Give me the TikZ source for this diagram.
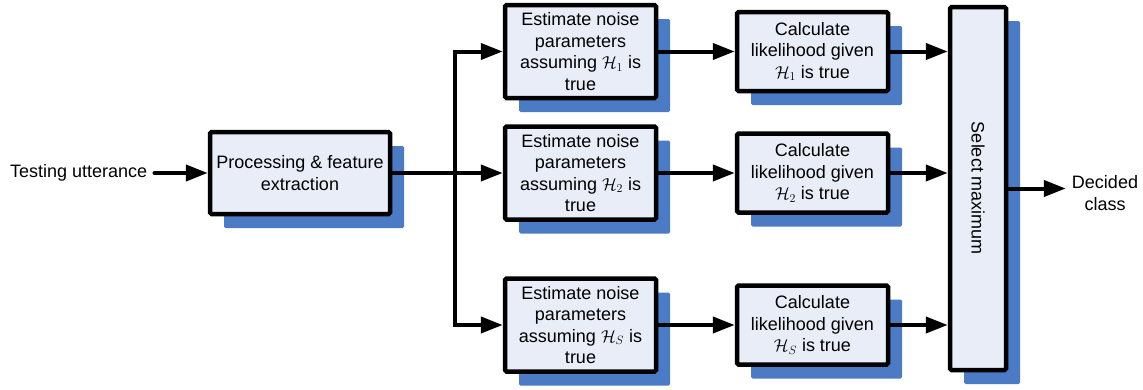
\documentclass[tikz,border=0pt]{standalone}
\usepackage{fontspec}
\setmainfont{Liberation Sans}
\usetikzlibrary{arrows.meta,shadows}
\definecolor{boxfill}{HTML}{E8EDF7}
\definecolor{shade}{HTML}{4A7BC4}
\tikzset{
  blk/.style={draw=black, line width=4.5pt, fill=boxfill, rounded corners=1.5pt,
    align=center, inner sep=0pt,
    font=\fontsize{18}{21.6}\selectfont,
    drop shadow={shadow xshift=14pt, shadow yshift=-14pt, fill=shade, opacity=1}},
  conn/.style={line width=4pt},
  arr/.style={conn, -{Triangle[length=22pt,width=16pt]}},
  lbl/.style={align=center, inner sep=0pt, font=\fontsize{18}{21.6}\selectfont}
}
\begin{document}
\begin{tikzpicture}[x=1pt, y=-1pt]
\useasboundingbox (0,0) rectangle (1143,389);

% processing stage
\node[blk, minimum width=180pt, minimum height=82pt] (proc) at (300,173)
  {Processing \& feature\\extraction};
\node[lbl, anchor=west] (inp) at (10,173) {Testing utterance};

% noise parameter estimators
\node[blk, minimum width=151pt, minimum height=93pt] (est1) at (580.5,51.5)
  {Estimate noise\\parameters\\assuming $\mathcal{H}_1$ is\\true};
\node[blk, minimum width=151pt, minimum height=93pt] (est2) at (580.5,173)
  {Estimate noise\\parameters\\assuming $\mathcal{H}_2$ is\\true};
\node[blk, minimum width=151pt, minimum height=93pt] (est3) at (580.5,325)
  {Estimate noise\\parameters\\assuming $\mathcal{H}_S$ is\\true};

% likelihood computations
\node[blk, minimum width=151pt, minimum height=79pt] (calc1) at (812.5,51.5)
  {Calculate\\likelihood given\\$\mathcal{H}_1$ is true};
\node[blk, minimum width=151pt, minimum height=79pt] (calc2) at (812.5,173)
  {Calculate\\likelihood given\\$\mathcal{H}_2$ is true};
\node[blk, minimum width=151pt, minimum height=79pt] (calc3) at (812.5,325)
  {Calculate\\likelihood given\\$\mathcal{H}_S$ is true};

% decision
\node[blk, minimum width=56pt, minimum height=363pt] (sel) at (978,188.5) {};
\node[lbl, rotate=-90] (seltxt) at (sel.center) {Select maximum};
\node[lbl] (out) at (1105,193) {Decided\\class};

% connectors
\coordinate (br) at (455,173);
\coordinate (inpend) at ([xshift=7pt]inp.east);
\draw[arr, line cap=round] (inpend) -- (proc.west);
\draw[conn] (proc.east) -- (br);
\draw[arr] (br) -- (est2.west);
\draw[arr] (br) |- (est1.west);
\draw[arr] (br) |- (est3.west);
\draw[arr] (est1.east) -- (calc1.west);
\draw[arr] (est2.east) -- (calc2.west);
\draw[arr] (est3.east) -- (calc3.west);
\draw[arr] (calc1.east) -- (calc1.east -| sel.west);
\draw[arr] (calc2.east) -- (calc2.east -| sel.west);
\draw[arr] (calc3.east) -- (calc3.east -| sel.west);
\draw[arr] (sel.east) -- ([xshift=-6pt]sel.east -| out.west);
\end{tikzpicture}
\end{document}
